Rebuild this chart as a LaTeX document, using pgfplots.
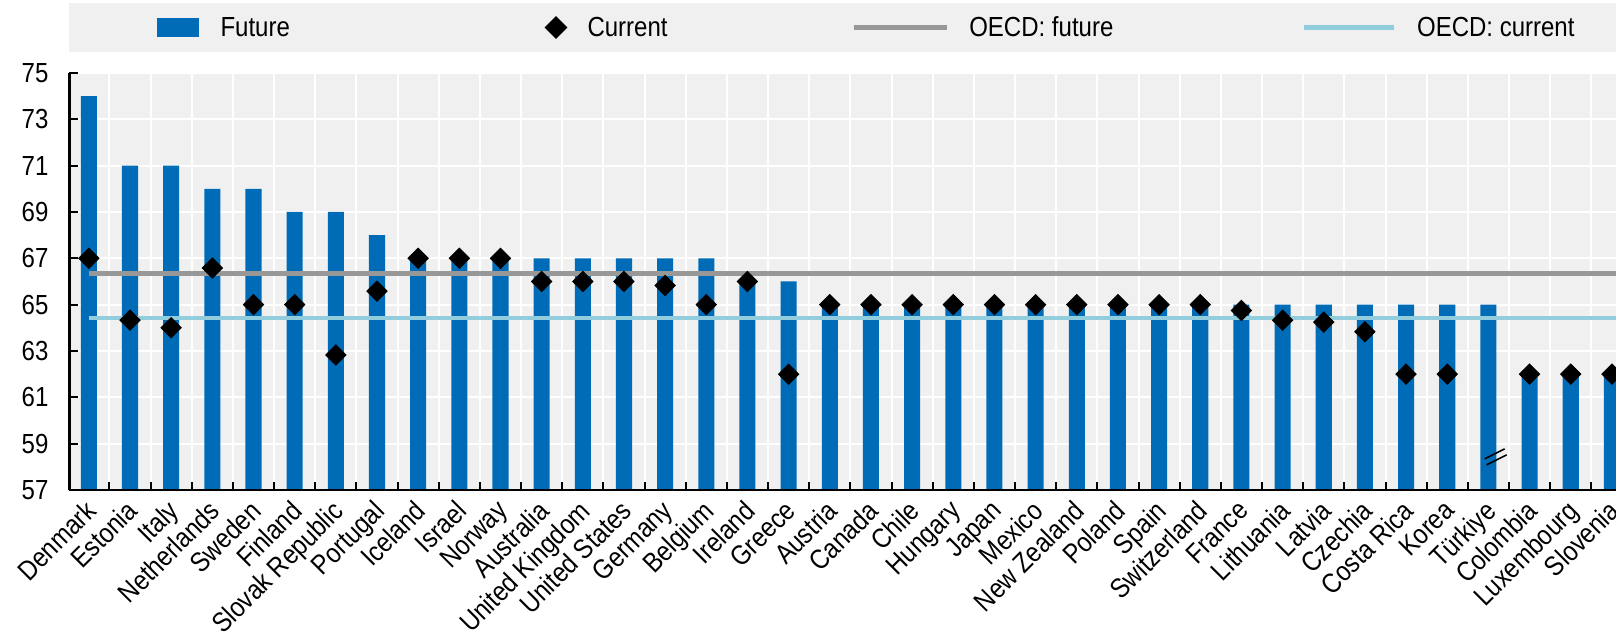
\documentclass[border=0pt]{standalone}
\usepackage{fontspec}
\setmainfont{Liberation Sans}[FakeStretch=0.87]
\usepackage{pgfplots}
\usepackage{pgfplotstable}
\pgfplotsset{compat=1.18}
\definecolor{barblue}{RGB}{0,107,182}
\definecolor{bggray}{RGB}{240,240,240}
\definecolor{oecdgray}{RGB}{152,152,152}
\definecolor{oecdblue}{RGB}{146,205,222}
\newcommand\lf{\fontsize{13.8}{16}\selectfont}
\pgfdeclareplotmark{brk}{%
 \pgfsetlinewidth{0.8pt}%
 \pgfpathmoveto{\pgfqpoint{-5pt}{0.5pt}}\pgfpathlineto{\pgfqpoint{5pt}{5.5pt}}%
 \pgfpathmoveto{\pgfqpoint{-4pt}{-2.5pt}}\pgfpathlineto{\pgfqpoint{6pt}{2.5pt}}%
 \pgfusepathqstroke}
\pgfplotsset{layers/mylayers/.define layer set={axis background,axis grid,pre main,main,axis ticks,axis lines,axis tick labels,axis descriptions,axis foreground}{%
 grid style={/pgfplots/on layer=axis grid},
 tick style={/pgfplots/on layer=axis ticks},
 axis line style={/pgfplots/on layer=axis lines},
 label style={/pgfplots/on layer=axis descriptions},
 legend style={/pgfplots/on layer=axis descriptions},
 title style={/pgfplots/on layer=axis descriptions},
 ticklabel style={/pgfplots/on layer=axis tick labels},
 axis background@ style={/pgfplots/on layer=axis background}}}
\pgfplotstableread{
x fut cur
0 74 67
1 71 64.33
2 71 64
3 70 66.58
4 70 65
5 69 65
6 69 62.83
7 68 65.58
8 67 67
9 67 67
10 67 67
11 67 66
12 67 66
13 67 66
14 67 65.83
15 67 65
16 66 66
17 66 62
18 65 65
19 65 65
20 65 65
21 65 65
22 65 65
23 65 65
24 65 65
25 65 65
26 65 65
27 65 65
28 65 64.75
29 65 64.33
30 65 64.25
31 65 63.83
32 65 62
33 65 62
34 65 nan
35 62 62
36 62 62
37 62 62
}\data
\begin{document}
\begin{tikzpicture}
\begin{axis}[
 set layers=mylayers,
 scale only axis, width=773.25pt, height=208.5pt,
 xmin=-0.47, xmax=37.1, ymin=57, ymax=75,
 axis x line*=bottom, axis y line*=left,
 axis line style={-, black, line width=1.2pt},
 axis background/.style={fill=bggray},
 xtick={0,...,37},
 xticklabels={Denmark,Estonia,Italy,Netherlands,Sweden,Finland,Slovak Republic,Portugal,Iceland,Israel,Norway,Australia,United Kingdom,United States,Germany,Belgium,Ireland,Greece,Austria,Canada,Chile,Hungary,Japan,Mexico,New Zealand,Poland,Spain,Switzerland,France,Lithuania,Latvia,Czechia,Costa Rica,Korea,Türkiye,Colombia,Luxembourg,Slovenia},
 minor x tick num=1, xminorgrids=true, ymajorgrids=true,
 ytick={57,59,...,75},
 tick align=inside, major tick length=4pt, minor tick length=4pt,
 tick style={black, line width=1pt},
 every major x tick/.append style={draw=none},
 major grid style={white, line width=1pt}, minor grid style={white, line width=1pt},
 /pgf/number format/assume math mode=true,
 yticklabel style={font=\lf, xshift=-7pt},
 xticklabel style={font=\lf, xshift=-2.5pt, yshift=-2.8pt, rotate=45, anchor=north east, inner sep=1pt},
 legend columns=4,
 legend cell align=left,
 legend style={at={(0,1.0504)}, anchor=south west, fill=bggray, draw=none, inner sep=0pt, outer sep=0pt,
   /tikz/column sep=0pt, /tikz/row sep=0pt,
   nodes={inner sep=0pt, font=\lf, text height=9.5pt, text depth=0pt, anchor=west}},
]
\addplot[ybar, bar width=0.39, bar shift=0pt, fill=barblue, draw=none, forget plot] table[x=x,y=fut]{\data};
\addplot[oecdgray, line width=2.4pt, forget plot] coordinates {(0,66.35) (37.5,66.35)};
\addplot[oecdblue, line width=2.4pt, forget plot] coordinates {(0,64.42) (37.5,64.42)};
\addplot[only marks, mark=square*, mark size=3.6pt, mark options={rotate=45, fill=black, draw=black}, forget plot] table[x=x,y=cur]{\data};
\addplot[only marks, mark=brk, black, forget plot] coordinates {(34.15,58.3)};
\addlegendimage{legend image code/.code={\path[draw=none,fill=none] (0pt,-12.25pt) rectangle (75.5pt,12.25pt); \fill[barblue] (44pt,-4.5pt) rectangle (64.5pt,4.5pt);}}
\addlegendentry{\makebox[162pt][l]{Future}}
\addlegendimage{legend image code/.code={\path[draw=none,fill=none] (0pt,-12.25pt) rectangle (21.5pt,12.25pt); \fill[black] (5.75pt,5.4pt) -- (11.15pt,0pt) -- (5.75pt,-5.4pt) -- (0.35pt,0pt) -- cycle;}}
\addlegendentry{\makebox[132pt][l]{Current}}
\addlegendimage{legend image code/.code={\path[draw=none,fill=none] (0pt,-12.25pt) rectangle (57.7pt,12.25pt); \draw[oecdgray, line width=2.4pt] (0pt,0pt) -- (46.5pt,0pt);}}
\addlegendentry{\makebox[166pt][l]{OECD: future}}
\addlegendimage{legend image code/.code={\path[draw=none,fill=none] (0pt,-12.25pt) rectangle (56.7pt,12.25pt); \draw[oecdblue, line width=2.4pt] (0pt,0pt) -- (45.3pt,0pt);}}
\addlegendentry{\makebox[101.85pt][l]{OECD: current}}
\coordinate (bl) at (rel axis cs:0,0);
\coordinate (tr) at (rel axis cs:1,1);
\end{axis}
\pgfresetboundingbox
\path ([xshift=-34.75pt,yshift=-74.5pt]bl) rectangle ([yshift=36.5pt]tr);
\end{tikzpicture}
\end{document}
